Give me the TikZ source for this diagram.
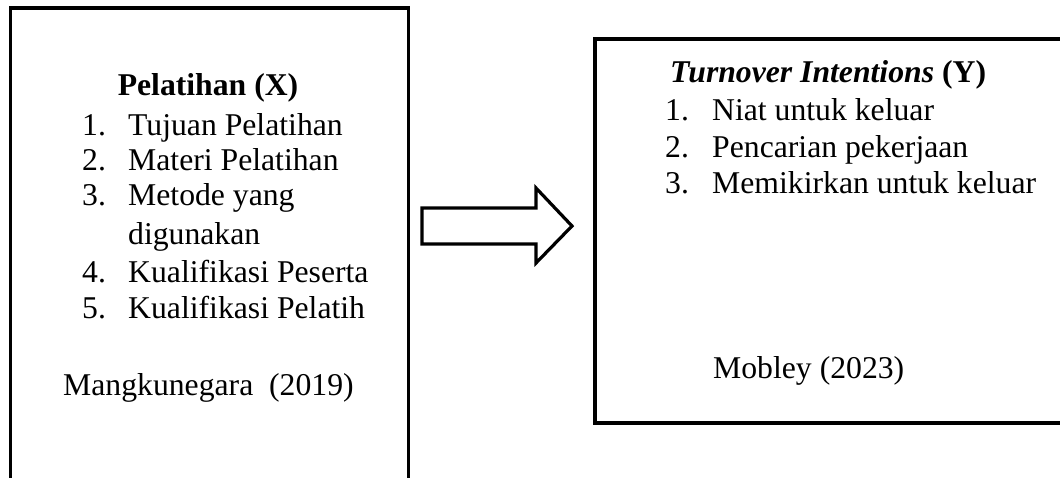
\documentclass[tikz,border=0pt]{standalone}
\usepackage{fontspec}
\setmainfont{Liberation Serif}
\begin{document}
\begin{tikzpicture}[x=1pt,y=-1pt,
  box/.style={draw=black,line width=3.8pt},
  txt/.style={font=\fontsize{31.7}{36}\selectfont,inner sep=0pt,anchor=base west},
  head/.style={font=\fontsize{31.7}{36}\selectfont\bfseries,inner sep=0pt,anchor=base},
  blockarrow/.style={draw=black,line width=3.2pt,line join=miter,fill=white}]
\useasboundingbox (0,0) rectangle (1060,477);
\clip (0,0) rectangle (1060,477);
% boxes
\draw[box] (10.5,520) -- (10.5,8) -- (408.5,8) -- (408.5,520);
\draw[box] (1100,39) -- (595,39) -- (595,423) -- (1100,423);
% left box text
\node[head] (px) at (208,95) {Pelatihan (X)};
\node[txt] (n1) at (82,135) {1.};
\node[txt] (t1) at (128,135) {Tujuan Pelatihan};
\node[txt] (n2) at (82,170) {2.};
\node[txt] (t2) at (128,170) {Materi Pelatihan};
\node[txt] (n3) at (82,205) {3.};
\node[txt] (t3) at (128,205) {Metode yang};
\node[txt] (t3b) at (128,244) {digunakan};
\node[txt] (n4) at (82,282) {4.};
\node[txt] (t4) at (128,282) {Kualifikasi Peserta};
\node[txt] (n5) at (82,318) {5.};
\node[txt] (t5) at (128,318) {Kualifikasi Pelatih};
\node[txt] (refx) at (63,395) {Mangkunegara\ \ (2019)};
% right box text
\node[txt,font=\fontsize{31.7}{36}\selectfont\bfseries] (py) at (670,82) {\textit{Turnover Intentions} (Y)};
\node[txt] (m1) at (665,120) {1.};
\node[txt] (u1) at (712,120) {Niat untuk keluar};
\node[txt] (m2) at (665,157) {2.};
\node[txt] (u2) at (712,157) {Pencarian pekerjaan};
\node[txt] (m3) at (665,193) {3.};
\node[txt] (u3) at (712,193) {Memikirkan untuk keluar};
\node[txt] (refy) at (713,378) {Mobley (2023)};
% block arrow
\draw[blockarrow] (422,208) -- (536,208) -- (536,188) -- (572,226) -- (536,263) -- (536,244) -- (422,244) -- cycle;
\end{tikzpicture}
\end{document}
